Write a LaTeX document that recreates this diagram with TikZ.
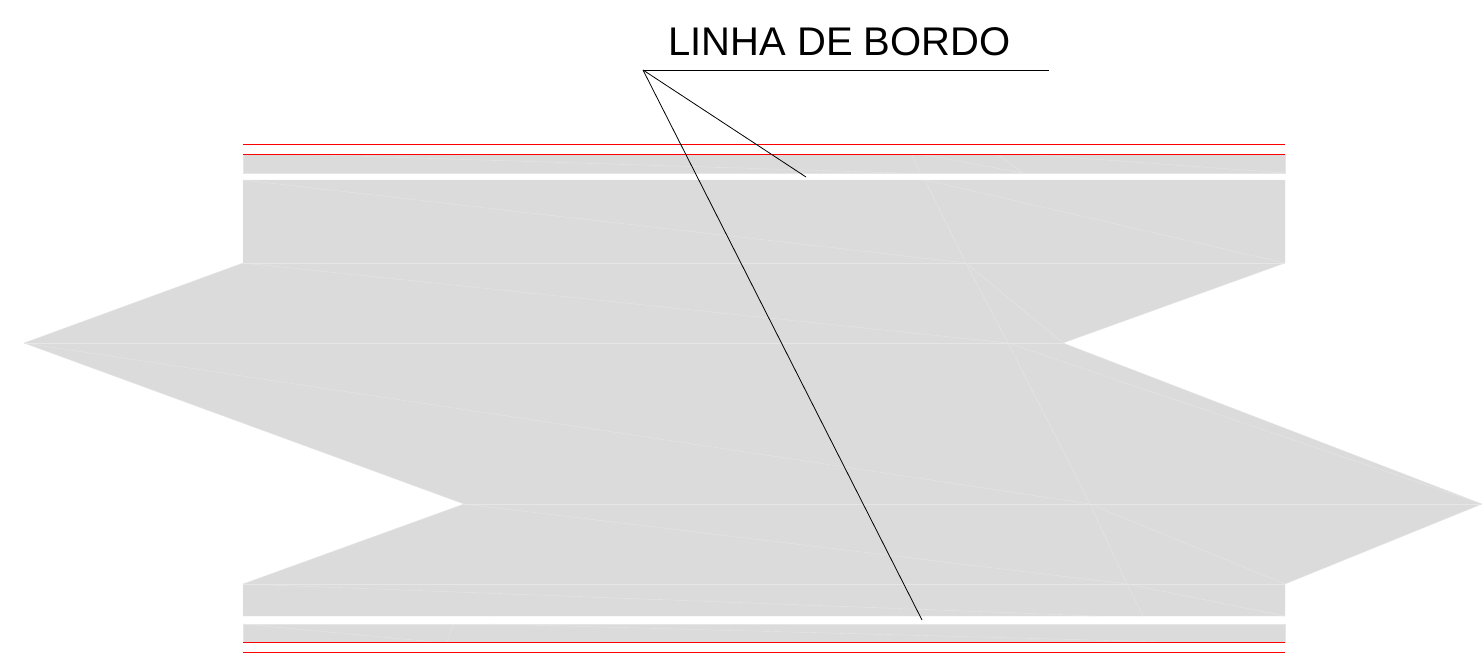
\documentclass[tikz,border=0pt]{standalone}
\usepackage{fontspec}
\setmainfont{Liberation Sans}
\definecolor{panel}{HTML}{DBDBDB}
\definecolor{seam}{HTML}{E6E6E6}
\tikzset{
  panelfill/.style={fill=panel,draw=seam,line width=0.3pt},
  seamline/.style={draw=seam,line width=0.3pt},
  edgeline/.style={draw=red,line width=0.6pt},
  leaderline/.style={draw=black,line width=0.6pt},
}
\begin{document}
\begin{tikzpicture}[x=0.75pt,y=-0.75pt]
\useasboundingbox (0,0) rectangle (1482,658);
% panels
\path[panelfill] (243,154) rectangle (1285,173);
\path[panelfill] (243,180) -- (1285,180) -- (1285,263) -- (1063,343) -- (1482,504) -- (1285,584) -- (1285,616) -- (243,616) -- (243,584) -- (464,504) -- (24,343) -- (243,263) -- cycle;
\path[panelfill] (243,624) rectangle (1285,642);
% seams: horizontal
\draw[seamline] (243,263) -- (1285,263);
\draw[seamline] (24,343) -- (1063,343);
\draw[seamline] (464,504) -- (1482,504);
\draw[seamline] (243,584) -- (1285,584);
% seams: main panel
\draw[seamline] (243,180) -- (966,263);
\draw[seamline] (925,180) -- (1285,263);
\draw[seamline] (925,180) -- (966,263) -- (1008,343) -- (1090,504) -- (1127,584) -- (1143,616);
\draw[seamline] (243,263) -- (1008,343);
\draw[seamline] (966,263) -- (1063,343);
\draw[seamline] (24,343) -- (1090,504);
\draw[seamline] (1008,343) -- (1482,504);
\draw[seamline] (464,504) -- (1127,584);
\draw[seamline] (1090,504) -- (1285,584);
\draw[seamline] (243,584) -- (1097,616);
\draw[seamline] (1127,584) -- (1285,616);
% seams: strips
\draw[seamline] (290,154) -- (900,173);
\draw[seamline] (912,154) -- (920,173);
\draw[seamline] (920,154) -- (1023,173);
\draw[seamline] (997,154) -- (1023,173);
\draw[seamline] (1023,154) -- (1285,173);
\draw[seamline] (243,624) -- (435,642);
\draw[seamline] (453,624) -- (447,642);
\draw[seamline] (490,624) -- (1167,642);
% red edge lines
\draw[edgeline] (243,144.8) -- (1285,144.8);
\draw[edgeline] (243,154) -- (1285,154);
\draw[edgeline] (243,642) -- (1285,642);
\draw[edgeline] (243,652) -- (1285,652);
% leader
\node[anchor=base west,inner sep=0pt,font=\fontsize{30pt}{33pt}\selectfont] (label) at (668,55) {LINHA DE BORDO};
\coordinate (apex) at (643,70);
\coordinate (shelf) at (1049,70);
\coordinate (topend) at (806,177);
\coordinate (botend) at (922,620);
\draw[leaderline] (apex) -- (shelf);
\draw[leaderline] (apex) -- (topend);
\draw[leaderline] (apex) -- (botend);
\end{tikzpicture}
\end{document}
